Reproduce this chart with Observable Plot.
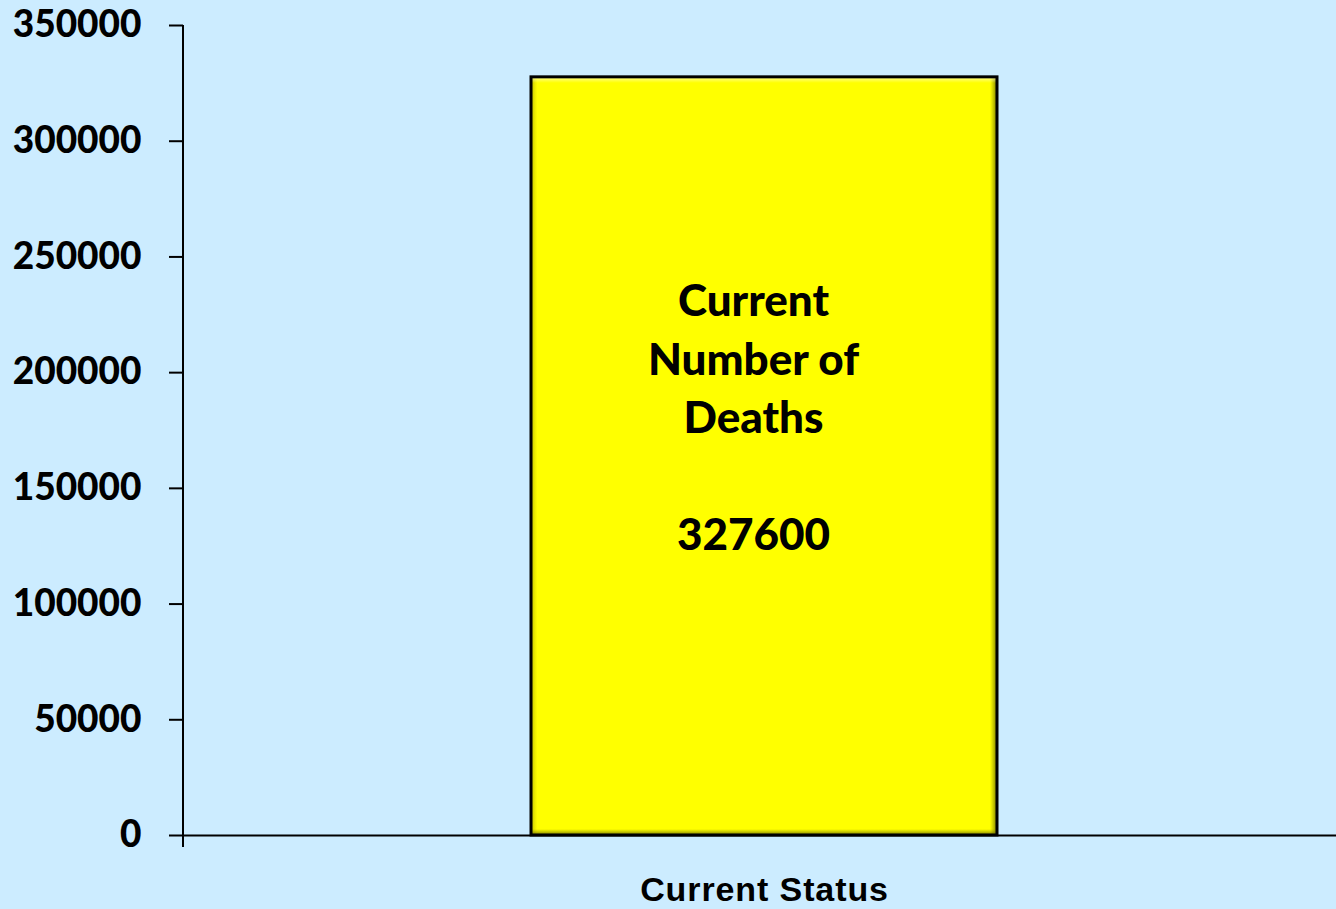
<!DOCTYPE html>
<html><head><meta charset="utf-8">
<script src="https://cdn.jsdelivr.net/npm/d3@7"></script>
<script src="https://cdn.jsdelivr.net/npm/@observablehq/plot@0.6"></script>
<style>html,body{margin:0;padding:0;background:#CCECFF;overflow:hidden}</style>
</head><body><div id="chart"></div>
<script>
const categories = ["Current Status"];
const values = [327600];
const barLabels = ["Current\nNumber of\nDeaths\n\n327600"];
const yTicks = [0, 50000, 100000, 150000, 200000, 250000, 300000, 350000];
const yMax = 350000;

const data = categories.map((c, i) => ({category: c, value: values[i], label: barLabels[i]}));

const plot = Plot.plot({
  width: 1336, height: 909,
  marginTop: 25, marginLeft: 183, marginRight: 0, marginBottom: 74,
  style: {background: "#CCECFF", fontFamily: "Lato", fontWeight: "bold", color: "black"},
  x: {domain: categories, range: [183, 1345], padding: 0.427, label: null},
  y: {domain: [0, yMax], label: null},
  marks: [
    Plot.axisY({ticks: yTicks, tickSize: 14, tickPadding: 28, strokeWidth: 2, tickFormat: d => String(d),
      fontSize: 37, fontWeight: 900, fontFamily: "Lato", label: null}),
    Plot.axisX({tickSize: 0, tickPadding: 41, fontSize: 34, fontFamily: "Liberation Sans", fontWeight: "bold", label: null}),
    Plot.barY(data, {x: "category", y: "value", fill: "#FFFF00"}),
    Plot.barY(data, {x: "category", y: "value", fill: "url(#bevelH)"}),
    Plot.barY(data, {x: "category", y: "value", fill: "url(#bevelV)"}),
    Plot.barY(data, {x: "category", y: "value", fill: "none", stroke: "black", strokeWidth: 3}),
    Plot.ruleY([0], {stroke: "black", strokeWidth: 2}),
    Plot.text(data, {x: "category", y: d => d.value * 0.55, text: "label", fontSize: 44,
      fontFamily: "Lato", fontWeight: 900, lineHeight: 1.33, dx: -11, dy: -4, fill: "black"})
  ]
});
document.getElementById("chart").appendChild(plot);

const svg = d3.select(plot);
const defs = svg.insert("defs", ":first-child");
const gh = defs.append("linearGradient").attr("id", "bevelH").attr("x1", 0).attr("x2", 1).attr("y1", 0).attr("y2", 0);
[[0, "#8a8a00", 0.6], [0.014, "#c8c800", 0], [0.985, "#8a8a00", 0], [1, "#5a5a00", 0.85]].forEach(([o, c, a]) =>
  gh.append("stop").attr("offset", o).attr("stop-color", c).attr("stop-opacity", a));
const gv = defs.append("linearGradient").attr("id", "bevelV").attr("x1", 0).attr("x2", 0).attr("y1", 0).attr("y2", 1);
[[0, "#ffffff", 0.6], [0.008, "#ffffff", 0], [0.992, "#8a8a00", 0], [1, "#5a5a00", 0.85]].forEach(([o, c, a]) =>
  gv.append("stop").attr("offset", o).attr("stop-color", c).attr("stop-opacity", a));

const ys = plot.scale("y");
const xs = plot.scale("x");
svg.append("line")
  .attr("x1", xs.range[0]).attr("x2", xs.range[0])
  .attr("y1", ys.apply(yMax)).attr("y2", ys.apply(0) + 12)
  .attr("stroke", "black").attr("stroke-width", 2);

svg.selectAll("g[aria-label='x-axis tick label'] text").style("letter-spacing", "0.9px");
</script>
</body></html>
